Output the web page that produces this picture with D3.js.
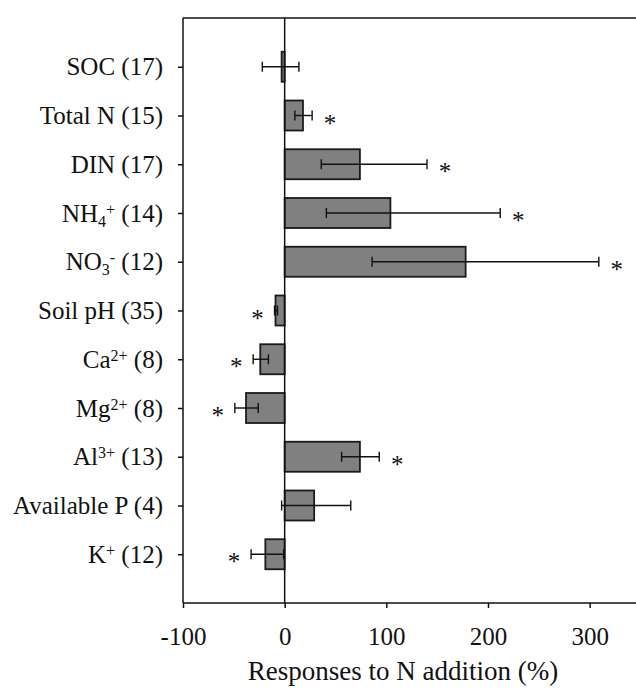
<!DOCTYPE html>
<html>
<head>
<meta charset="utf-8">
<script src="https://cdn.jsdelivr.net/npm/d3@7"></script>
<style>
  body { margin: 0; background: #fff; }
  svg text { font-family: "Liberation Serif", "Times New Roman", Times, serif; }
</style>
</head>
<body>
<div id="chart"></div>
<script>
// labels use _{} for subscript and ^{} for superscript
var categories = [
  "SOC (17)",
  "Total N (15)",
  "DIN (17)",
  "NH_{4}^{+} (14)",
  "NO_{3}^{-} (12)",
  "Soil pH (35)",
  "Ca^{2+} (8)",
  "Mg^{2+} (8)",
  "Al^{3+} (13)",
  "Available P (4)",
  "K^{+} (12)"
];
var means =    [-3, 18, 74, 104, 178, -9, -24, -38, 74, 29, -19];
var ciLow =    [-22, 10, 36, 41, 86, -10, -31, -49, 56, -3, -33];
var ciHigh =   [14, 27, 140, 212, 309, -7, -16, -26, 93, 65, -1];
var signif =   [false, true, true, true, true, true, true, true, true, false, true];
var xTicks = [-100, 0, 100, 200, 300];

var width = 636, height = 688;
var margin = { top: 18, left: 183 };
var plotBottom = 603;

var svg = d3.select("#chart").append("svg")
  .attr("width", width)
  .attr("height", height);

var x = d3.scaleLinear().domain([-100, 350]).range([margin.left, margin.left + 450 * 1.0167]);
var y = d3.scalePoint().domain(categories).range([margin.top, plotBottom]).padding(1);
var barH = 30;

var data = categories.map(function(c, i) {
  return { name: c, mean: means[i], lo: ciLow[i], hi: ciHigh[i], sig: signif[i] };
});

// frame: top line
svg.append("line")
  .attr("x1", margin.left).attr("x2", width + 5)
  .attr("y1", margin.top).attr("y2", margin.top)
  .attr("stroke", "#111").attr("stroke-width", 1.5);

// bars
svg.selectAll(".bar")
    .data(data)
  .enter().append("rect")
    .attr("class", "bar")
    .attr("x", function(d) { return x(Math.min(0, d.mean)); })
    .attr("width", function(d) { return Math.abs(x(d.mean) - x(0)); })
    .attr("y", function(d) { return y(d.name) - barH / 2; })
    .attr("height", barH)
    .attr("fill", "#808080")
    .attr("stroke", "#1a1a1a")
    .attr("stroke-width", 1.8);

// zero line
svg.append("line")
  .attr("x1", x(0)).attr("x2", x(0))
  .attr("y1", margin.top).attr("y2", plotBottom)
  .attr("stroke", "#111").attr("stroke-width", 1.5);

// error bars
var err = svg.selectAll(".err")
    .data(data)
  .enter().append("g")
    .attr("class", "err")
    .attr("stroke", "#111")
    .attr("stroke-width", 1.4);
err.append("line")
  .attr("x1", function(d) { return x(d.lo); })
  .attr("x2", function(d) { return x(d.hi); })
  .attr("y1", function(d) { return y(d.name); })
  .attr("y2", function(d) { return y(d.name); });
err.append("line")
  .attr("x1", function(d) { return x(d.lo); })
  .attr("x2", function(d) { return x(d.lo); })
  .attr("y1", function(d) { return y(d.name) - 5; })
  .attr("y2", function(d) { return y(d.name) + 5; });
err.append("line")
  .attr("x1", function(d) { return x(d.hi); })
  .attr("x2", function(d) { return x(d.hi); })
  .attr("y1", function(d) { return y(d.name) - 5; })
  .attr("y2", function(d) { return y(d.name) + 5; });

// significance stars
svg.selectAll(".star")
    .data(data.filter(function(d) { return d.sig; }))
  .enter().append("text")
    .attr("class", "star")
    .attr("x", function(d) { return d.mean >= 0 ? x(d.hi) + 18 : x(d.lo) - 17; })
    .attr("y", function(d) { return y(d.name) + 16; })
    .attr("text-anchor", "middle")
    .attr("fill", "#111")
    .style("font-size", "25px")
    .text("*");

// y axis
var yAxis = svg.append("g")
  .attr("transform", "translate(" + margin.left + ",0)")
  .call(d3.axisLeft(y).tickSize(5).tickSizeOuter(0).tickFormat(""));
yAxis.select(".domain").attr("stroke", "#111").attr("stroke-width", 1.5)
  .attr("d", "M0," + margin.top + "V" + plotBottom);
yAxis.selectAll(".tick line").attr("stroke", "#111").attr("stroke-width", 1.5);

// y labels with sub/superscripts
yAxis.selectAll(".tick").each(function(c) {
  var t = d3.select(this).append("text")
    .attr("x", -20)
    .attr("y", 8)
    .attr("text-anchor", "end")
    .attr("fill", "#111")
    .style("font-size", "25px");
  var re = /([_^])\{([^}]*)\}|([^_^]+)/g, m;
  while ((m = re.exec(c)) !== null) {
    if (m[3]) {
      t.append("tspan").style("font-size", "25px").text(m[3]);
    } else {
      var sub = m[1] === "_";
      t.append("tspan")
        .style("font-size", "16px")
        .attr("baseline-shift", sub ? "-30%" : "45%")
        .text(m[2]);
    }
  }
});

// x axis
var xAxis = svg.append("g")
  .attr("transform", "translate(0," + plotBottom + ")")
  .call(d3.axisBottom(x).tickValues(xTicks)
    .tickFormat(function(d) { return String(d); })
    .tickSize(5).tickSizeOuter(0));
xAxis.select(".domain").attr("stroke", "#111").attr("stroke-width", 1.5)
  .attr("d", "M" + margin.left + ",0H" + (width + 5));
xAxis.selectAll(".tick line").attr("stroke", "#111").attr("stroke-width", 1.5);
xAxis.selectAll(".tick text")
  .attr("y", 42)
  .attr("dy", null)
  .attr("fill", "#111")
  .style("font-size", "25px");

svg.append("text")
  .attr("x", 403)
  .attr("y", 680)
  .attr("text-anchor", "middle")
  .attr("fill", "#111")
  .style("font-size", "27px")
  .text("Responses to N addition (%)");
</script>
</body>
</html>
